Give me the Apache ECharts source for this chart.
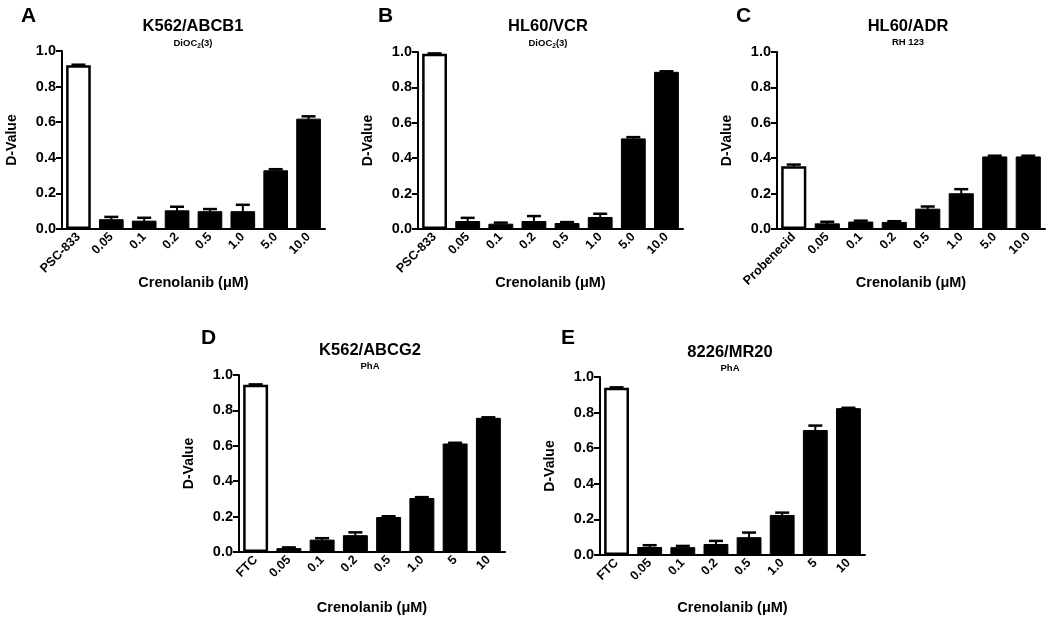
<!DOCTYPE html>
<html>
<head>
<meta charset="utf-8">
<script src="https://cdn.jsdelivr.net/npm/echarts@6/dist/echarts.min.js"></script>
<style>
html,body{margin:0;padding:0;background:#fff;}
#chart{width:1050px;height:620px;}
</style>
</head>
<body>
<div id="chart"></div>
<script>
// ---- data ----
const letters = ['A', 'B', 'C', 'D', 'E'];
const mainTitles = ['K562/ABCB1', 'HL60/VCR', 'HL60/ADR', 'K562/ABCG2', '8226/MR20'];
const subTitles = ['DiOC{s|2}(3)', 'DiOC{s|2}(3)', 'RH 123', 'PhA', 'PhA'];
const xAxisName = 'Crenolanib (μM)';
const yAxisName = 'D-Value';
const yTicks = [0.0, 0.2, 0.4, 0.6, 0.8, 1.0];

const catsA = ['PSC-833', '0.05', '0.1', '0.2', '0.5', '1.0', '5.0', '10.0'];
const valsA = [0.92, 0.055, 0.047, 0.105, 0.100, 0.100, 0.330, 0.620];
const errA  = [0.003, 0.013, 0.016, 0.020, 0.012, 0.036, 0.006, 0.013];

const catsB = ['PSC-833', '0.05', '0.1', '0.2', '0.5', '1.0', '5.0', '10.0'];
const valsB = [0.990, 0.045, 0.030, 0.045, 0.034, 0.068, 0.512, 0.888];
const errB  = [0.002, 0.018, 0.006, 0.028, 0.005, 0.018, 0.007, 0.003];

const catsC = ['Probenecid', '0.05', '0.1', '0.2', '0.5', '1.0', '5.0', '10.0'];
const valsC = [0.355, 0.032, 0.042, 0.040, 0.115, 0.202, 0.410, 0.410];
const errC  = [0.009, 0.009, 0.005, 0.004, 0.012, 0.023, 0.004, 0.004];

const catsD = ['FTC', '0.05', '0.1', '0.2', '0.5', '1.0', '5', '10'];
const valsD = [0.945, 0.022, 0.070, 0.095, 0.198, 0.305, 0.613, 0.758];
const errD  = [0.002, 0.004, 0.008, 0.016, 0.004, 0.005, 0.004, 0.003];

const catsE = ['FTC', '0.05', '0.1', '0.2', '0.5', '1.0', '5', '10'];
const valsE = [0.940, 0.045, 0.044, 0.062, 0.100, 0.225, 0.702, 0.825];
const errE  = [0.002, 0.010, 0.007, 0.017, 0.026, 0.013, 0.025, 0.002];

const allCats = [catsA, catsB, catsC, catsD, catsE];
const allVals = [valsA, valsB, valsC, valsD, valsE];
const allErrs = [errA, errB, errC, errD, errE];

// ---- layout (pixels) ----
const boxes = [
  {l: 62,  r: 325,  t: 51,  b: 229, xg: 46},
  {l: 418, r: 683,  t: 52,  b: 229, xg: 46},
  {l: 777, r: 1045, t: 52,  b: 229, xg: 46},
  {l: 239, r: 505,  t: 375, b: 552, xg: 48},
  {l: 600, r: 865,  t: 377, b: 555, xg: 45}
];
const titlePos = [
  {x: 193, y: 18, lx: 21,  ly: 6},
  {x: 548, y: 18, lx: 378, ly: 6},
  {x: 908, y: 18, lx: 736, ly: 6},
  {x: 370, y: 342, lx: 201, ly: 328},
  {x: 730, y: 344, lx: 561, ly: 328}
];

const FONT = 'Liberation Sans, Arial, sans-serif';

const grid = [], xAxis = [], yAxis = [], series = [], title = [];
boxes.forEach((b, i) => {
  grid.push({left: b.l, top: b.t, width: b.r - b.l, height: b.b - b.t, containLabel: false});
  xAxis.push({
    type: 'category', gridIndex: i, data: allCats[i],
    name: xAxisName, nameLocation: 'middle', nameGap: b.xg, nameMoveOverlap: false,
    nameTextStyle: {fontFamily: FONT, fontWeight: 'bold', fontSize: 14.5, color: '#000'},
    axisLine: {lineStyle: {color: '#000', width: 2}},
    axisTick: {alignWithLabel: true, length: 5, lineStyle: {color: '#000', width: 2}},
    axisLabel: {interval: 0, rotate: 45, margin: 6, fontFamily: FONT, fontWeight: 'bold', fontSize: 12.5, color: '#000'},
    splitLine: {show: false}
  });
  yAxis.push({
    type: 'value', gridIndex: i, min: yTicks[0], max: yTicks[yTicks.length - 1], interval: 0.2,
    name: yAxisName, nameLocation: 'middle', nameGap: 43, nameRotate: 90, nameMoveOverlap: false,
    nameTextStyle: {fontFamily: FONT, fontWeight: 'bold', fontSize: 14, color: '#000'},
    axisLine: {show: true, lineStyle: {color: '#000', width: 2}},
    axisTick: {show: true, length: 6, lineStyle: {color: '#000', width: 2}},
    axisLabel: {margin: 6, fontFamily: FONT, fontWeight: 'bold', fontSize: 14.5, color: '#000',
      formatter: v => v.toFixed(1)},
    splitLine: {show: false}
  });
  series.push({
    type: 'bar', xAxisIndex: i, yAxisIndex: i, barWidth: '75%',
    data: allVals[i].map((v, k) => ({
      value: v,
      itemStyle: k === 0
        ? {color: '#fff', borderColor: '#000', borderWidth: 2.5}
        : {color: '#000', borderColor: '#000', borderWidth: 1}
    })),
    silent: true, z: 2
  });
  const errs = allErrs[i];
  series.push({
    type: 'custom', xAxisIndex: i, yAxisIndex: i, z: 3, silent: true,
    data: allVals[i].map((v, k) => [k, v, errs[k]]),
    renderItem: function (params, api) {
      const x = api.value(0), v = api.value(1), e = api.value(2);
      const p0 = api.coord([x, v]);
      const p1 = api.coord([x, v + e]);
      const half = 7;
      return {
        type: 'group',
        children: [
          {type: 'line', shape: {x1: p0[0], y1: p0[1] + 1, x2: p1[0], y2: p1[1]},
            style: {stroke: '#000', lineWidth: 2}},
          {type: 'line', shape: {x1: p1[0] - half, y1: p1[1], x2: p1[0] + half, y2: p1[1]},
            style: {stroke: '#000', lineWidth: 2.5}}
        ]
      };
    }
  });
  const tp = titlePos[i];
  title.push({
    text: mainTitles[i], subtext: subTitles[i], left: tp.x, top: tp.y, textAlign: 'center',
    padding: 0, itemGap: 2,
    textStyle: {fontFamily: FONT, fontWeight: 'bold', fontSize: 16.5, color: '#000'},
    subtextStyle: {fontFamily: FONT, fontWeight: 'bold', fontSize: 9.5, color: '#000',
      rich: {s: {fontFamily: FONT, fontWeight: 'bold', fontSize: 6.5, color: '#000', padding: [6, 0, 0, 0]}}}
  });
  title.push({
    text: letters[i], left: tp.lx, top: tp.ly, padding: 0,
    textStyle: {fontFamily: FONT, fontWeight: 'bold', fontSize: 21, color: '#000'}
  });
});

const chart = echarts.init(document.getElementById('chart'), null, {renderer: 'canvas'});
chart.setOption({
  animation: false,
  backgroundColor: '#fff',
  title: title,
  grid: grid,
  xAxis: xAxis,
  yAxis: yAxis,
  series: series
});
</script>
</body>
</html>
